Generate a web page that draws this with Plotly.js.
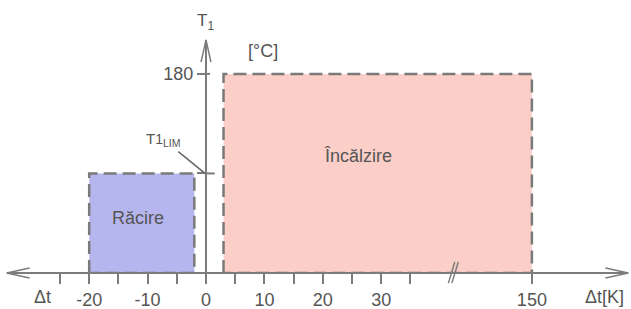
<!DOCTYPE html>
<html><head><meta charset="utf-8">
<script src="https://cdn.plot.ly/plotly-3.0.1.min.js"></script>
<style>html,body{margin:0;padding:0;background:#fff}</style>
</head><body><div id="chart" style="width:631px;height:309px"></div>
<script>
// ---- data ----
const xLabelValues = [-20, -10, 0, 10, 20, 30, 150];
const xLabelTexts = ['-20', '-10', '0', '10', '20', '30', '150'];
const xMinorValues = [-25, -15, -5, 5, 15, 25, 35];
const yLabelValues = [180];
const yLabelTexts = ['180'];
const zoneNames = ['Răcire', 'Încălzire'];
const zoneDeltaFrom = [-20, 3];
const zoneDeltaTo = [-2, 150];
const zoneTempTop = [90, 180];
const zoneFill = ['#b6b6ef', '#fbcfc8'];
const T1_LIM = 90;

// broken axis: values beyond the break are shifted left so 150 sits after the "//"
const HIGH_SHIFT = 150 - 55.8;
function ax(v) { return v > 40 ? v - HIGH_SHIFT : v; }
const BREAK_AT = 42.4;

const GRAY = '#7c7c7c';
const TXT = '#555555';
const FONT = 'Liberation Sans, Arial, Helvetica, sans-serif';

const traces = zoneNames.map((n, i) => {
  const a = ax(zoneDeltaFrom[i]), b = ax(zoneDeltaTo[i]), t = zoneTempTop[i];
  return {
    type: 'scatter', mode: 'lines', name: n,
    x: [a, a, b, b, a], y: [0, t, t, 0, 0],
    fill: 'toself', fillcolor: zoneFill[i],
    line: {color: '#7a7a7a', width: 2.5, dash: '13px,6px'},
    hoverinfo: 'skip', showlegend: false
  };
});

const py = 5 / 273; // paper units for 5px
const shapes = [
  // x axis shaft and arrowheads
  {type: 'line', xref: 'x', yref: 'paper', x0: -34.1, x1: 72.3, y0: 0, y1: 0, line: {color: GRAY, width: 2}},
  {type: 'path', xref: 'x', yref: 'paper', path: `M -30.2 ${py} L -34.1 0 L -30.2 ${-py}`, line: {color: GRAY, width: 1.5}},
  {type: 'path', xref: 'x', yref: 'paper', path: `M 68.4 ${py} L 72.3 0 L 68.4 ${-py}`, line: {color: GRAY, width: 1.5}},
  // y axis shaft and arrowhead
  {type: 'line', xref: 'x', yref: 'y', x0: 0, x1: 0, y0: 0, y1: 210.7, line: {color: GRAY, width: 2}},
  {type: 'path', xref: 'x', yref: 'y', path: 'M -0.85 190.7 L 0 210.7 L 0.85 190.7', line: {color: GRAY, width: 1.5}},
  // tick stubs on right of y axis
  {type: 'line', xref: 'x', yref: 'y', x0: 0, x1: 0.7, y0: 180, y1: 180, line: {color: GRAY, width: 2}},
  {type: 'line', xref: 'x', yref: 'y', x0: 0, x1: 1.5, y0: T1_LIM, y1: T1_LIM, line: {color: GRAY, width: 2}},
  // leader line for T1 LIM
  {type: 'line', xref: 'x', yref: 'y', x0: -4.74, x1: -0.17, y0: 109.7, y1: T1_LIM, line: {color: '#666', width: 1.5}},
  // axis break "//"
  {type: 'line', xref: 'x', yref: 'paper', x0: BREAK_AT - 0.9, x1: BREAK_AT + 0.2, y0: -0.037, y1: 0.04, line: {color: GRAY, width: 1.5}},
  {type: 'line', xref: 'x', yref: 'paper', x0: BREAK_AT - 0.3, x1: BREAK_AT + 0.8, y0: -0.037, y1: 0.04, line: {color: GRAY, width: 1.5}}
];

const ann = (x, y, text, size, extra) => Object.assign({
  x, y, xref: 'x', yref: 'y', text, showarrow: false,
  font: {family: FONT, size, color: TXT}, xanchor: 'center', yanchor: 'middle'
}, extra || {});

const annotations = [
  ann(-28, -0.088, 'Δt', 18, {yref: 'paper'}),
  ann(68.3, -0.088, 'Δt[K]', 18, {yref: 'paper'}),
  ann(0, 226.5, 'T<sub>1</sub>', 17),
  ann(9.7, 200.7, '[°C]', 18),
  ann(-7.4, 120.3, 'T<span style="font-size:14px">1</span><sub>LIM</sub>', 15),
  ann(-11.6, 49.7, zoneNames[0], 18),
  ann(26.0, 105.8, zoneNames[1], 18)
];

const layout = {
  width: 631, height: 309,
  margin: {l: 0, r: 0, t: 0, b: 36},
  paper_bgcolor: '#ffffff', plot_bgcolor: 'rgba(0,0,0,0)',
  showlegend: false,
  xaxis: {
    range: [-35.27, 72.77], tickmode: 'array',
    tickvals: xLabelValues.map(ax), ticktext: xLabelTexts,
    ticks: 'outside', ticklen: 10, tickwidth: 2, tickcolor: GRAY,
    minor: {tickmode: 'array', tickvals: xMinorValues.map(ax), ticks: 'outside', ticklen: 10, tickwidth: 2, tickcolor: GRAY, showgrid: false},
    showgrid: false, zeroline: false, showline: false,
    tickfont: {family: FONT, size: 18, color: TXT}, fixedrange: true
  },
  yaxis: {
    range: [0, 246.8], anchor: 'free', position: 206 / 631,
    tickmode: 'array', tickvals: yLabelValues, ticktext: yLabelTexts,
    ticks: 'outside', ticklen: 9, tickwidth: 2, tickcolor: GRAY,
    minor: {tickmode: 'array', tickvals: [T1_LIM], ticks: 'outside', ticklen: 9, tickwidth: 2, tickcolor: GRAY, showgrid: false},
    showgrid: false, zeroline: false, showline: false,
    tickfont: {family: FONT, size: 18, color: TXT}, fixedrange: true
  },
  shapes, annotations
};

Plotly.newPlot('chart', traces, layout, {staticPlot: true, displayModeBar: false});
</script></body></html>
